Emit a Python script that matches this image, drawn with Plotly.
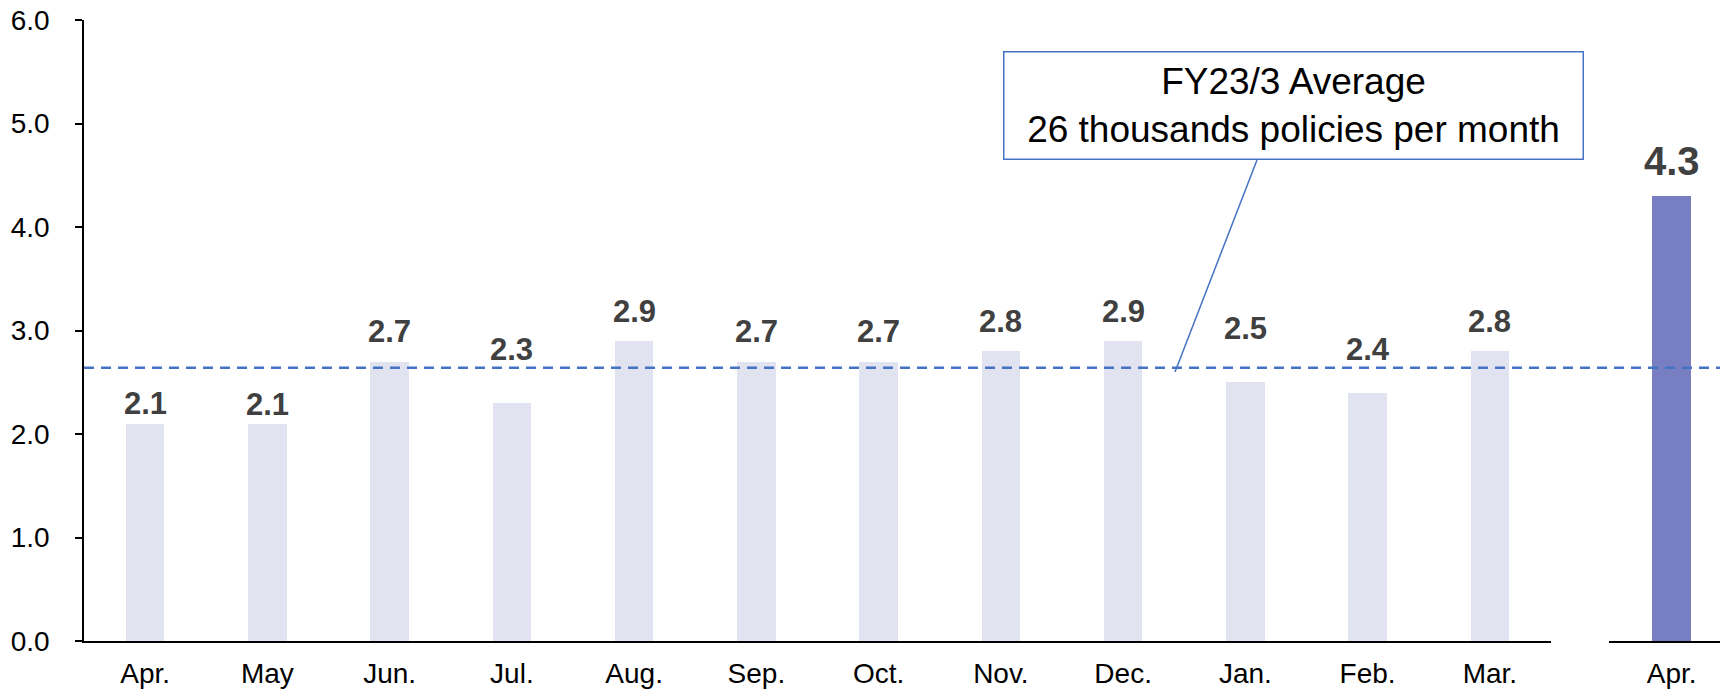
import plotly.graph_objects as go

# ---- data ----
months = ["Apr.", "May", "Jun.", "Jul.", "Aug.", "Sep.", "Oct.", "Nov.", "Dec.", "Jan.", "Feb.", "Mar."]
values = [2.1, 2.1, 2.7, 2.3, 2.9, 2.7, 2.7, 2.8, 2.9, 2.5, 2.4, 2.8]
new_month = ["Apr."]
new_value = [4.3]
average_value = 2.64
callout_lines = ["FY23/3 Average", "26 thousands policies per month"]
y_ticks = [0, 1, 2, 3, 4, 5, 6]

# ---- layout helpers (pixels) ----
OFF = 8  # page body margin of the browser
W, H = 1728 - OFF, 691 - OFF
ML, MR = 0, 0
MT = 20 - OFF
PLOT_BOTTOM = 641 - OFF
MB = H - PLOT_BOTTOM
PH = H - MT - MB


def px_x(p):
    return (p - OFF) / W


def px_y(p):
    return (PLOT_BOTTOM - (p - OFF)) / PH


# label gaps above bars (px), hand-placed as in the original
label_gap = [9, 8, 19, 42, 18, 19, 19, 18, 18, 42, 32, 18]
new_label_gap = [20]
DESC = 8  # descender + pad of annotation box

LIGHT = "#E1E3F1"
DARK = "#777FC2"
BLUE = "#4472C4"
FONT = "Liberation Sans, Arial, sans-serif"

fig = go.Figure()
fig.add_trace(go.Bar(x=months, y=values, xaxis="x", yaxis="y",
                     marker=dict(color=LIGHT, line=dict(width=0)), width=0.313,
                     hoverinfo="x+y"))
fig.add_trace(go.Bar(x=new_month, y=new_value, xaxis="x2", yaxis="y",
                     marker=dict(color=DARK, line=dict(width=0)), width=0.325,
                     hoverinfo="x+y"))

annotations = []
for m, v, g in zip(months, values, label_gap):
    annotations.append(dict(x=m, y=v, xref="x", yref="y", text=f"{v:.1f}", showarrow=False,
                            yanchor="bottom", yshift=g - DESC,
                            font=dict(family=FONT, size=31, color="#404040", weight="bold")))
for m, v, g in zip(new_month, new_value, new_label_gap):
    annotations.append(dict(x=m, y=v, xref="x2", yref="y", text=f"{v:.1f}", showarrow=False,
                            yanchor="bottom", yshift=g - 9,
                            font=dict(family=FONT, size=40, color="#404040", weight="bold")))

# callout box
annotations.append(dict(x=px_x(1293), y=px_y(105.5), xref="paper", yref="paper",
                        text="<br>".join(callout_lines), showarrow=False,
                        xanchor="center", yanchor="middle", align="center",
                        width=578, height=106, borderpad=0,
                        bordercolor=BLUE, borderwidth=1.5, bgcolor="white",
                        font=dict(family=FONT, size=37, color="black")))

shapes = [
    dict(type="line", xref="paper", yref="y", x0=px_x(84), x1=1, y0=average_value, y1=average_value,
         line=dict(color=BLUE, width=2.5, dash="10px,7px"), layer="above"),
    dict(type="line", xref="paper", yref="paper", x0=px_x(1257), y0=px_y(160),
         x1=px_x(1175), y1=px_y(372), line=dict(color=BLUE, width=1.5)),
]

fig.update_layout(
    width=W, height=H,
    margin=dict(l=ML, r=MR, t=MT, b=MB, autoexpand=False),
    paper_bgcolor="white", plot_bgcolor="white",
    showlegend=False,
    template="none",
    font=dict(family=FONT, color="black"),
    annotations=annotations,
    shapes=shapes,
    xaxis=dict(domain=[px_x(84), px_x(1551)], type="category", range=[-0.5, 11.5],
               showline=True, linecolor="black", linewidth=1.5, showgrid=False, zeroline=False,
               ticks="", tickfont=dict(size=28, family=FONT, color="black"),
               ticklabelstandoff=7, anchor="y", automargin=False, fixedrange=True),
    xaxis2=dict(domain=[px_x(1609), 1], type="category", range=[-0.527, 0.473],
                showline=True, linecolor="black", linewidth=1.5, showgrid=False, zeroline=False,
                ticks="", tickfont=dict(size=28, family=FONT, color="black"),
                ticklabelstandoff=7, anchor="y", automargin=False, fixedrange=True),
    yaxis=dict(domain=[0, 1], range=[0, 6], tickvals=y_ticks, tickformat=".1f",
               showline=True, linecolor="black", linewidth=1.5, showgrid=False, zeroline=False,
               ticks="outside", ticklen=7, tickcolor="black", tickwidth=1.5,
               tickfont=dict(size=28, family=FONT, color="black"),
               ticklabelstandoff=20, ticklabeloverflow="allow",
               anchor="x", automargin=False, fixedrange=True),
    bargap=0,
)

fig.write_html("out.html")
